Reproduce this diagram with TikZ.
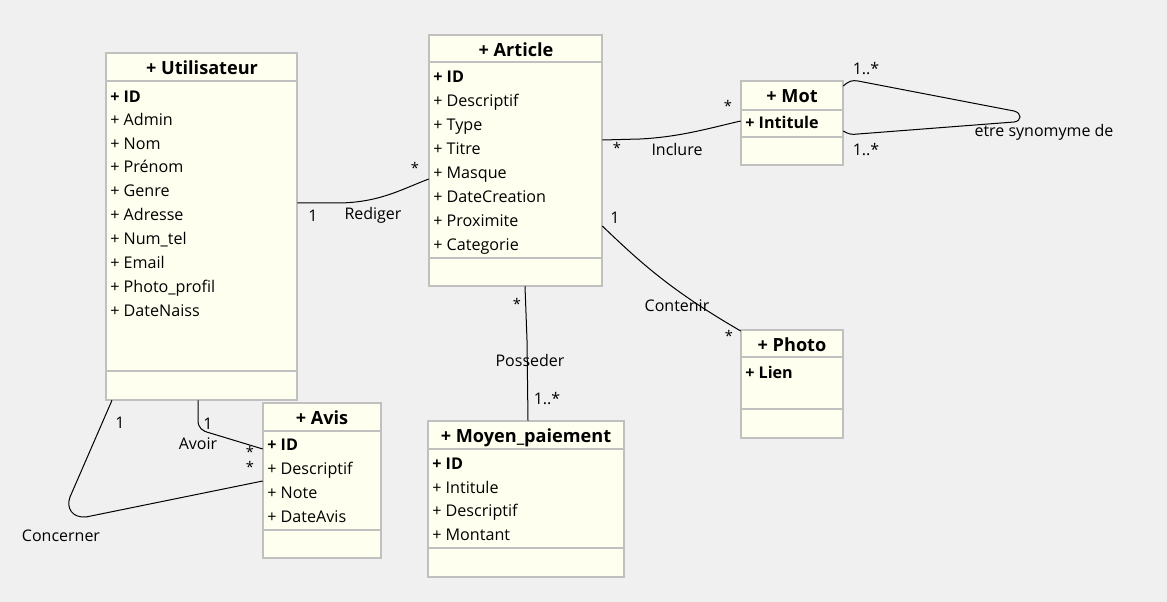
\documentclass[tikz,border=0pt]{standalone}
\usepackage{fontspec}
\setmainfont{Open Sans}
\usetikzlibrary{fit}
\definecolor{bg}{HTML}{F0F0F0}
\definecolor{boxfill}{HTML}{FFFFF0}
\definecolor{boxline}{HTML}{C0C0C0}
\tikzset{
  attr/.style={anchor=west, inner sep=0, yshift=-1.4pt, text height=9pt, text depth=2.6pt, font=\fontsize{12.1}{14}\selectfont},
  attrb/.style={attr, font=\fontsize{12.1}{14}\selectfont\bfseries},
  utitle/.style={inner sep=0, yshift=-1.4pt, text height=10pt, text depth=3pt, font=\fontsize{13.6}{16}\selectfont\bfseries},
  lbl/.style={inner sep=0, yshift=-1.2pt, text height=9pt, text depth=2.6pt, font=\fontsize{12}{14}\selectfont},
  star/.style={inner sep=0, font=\fontsize{11}{13}\selectfont},
  conn/.style={draw=black, line width=0.75pt},
  frame/.style={draw=boxline, line width=1.5pt, fill=boxfill},
  sepline/.style={draw=boxline, line width=1.5pt},
}
\newcommand{\umlbox}[7]{%
  \draw[frame] (#2,#3) rectangle (#4,#5);
  \draw[sepline] (#2,#6) -- (#4,#6);
  \draw[sepline] (#2,#7) -- (#4,#7);
  \node[inner sep=0, fit={(#2,#3)(#4,#5)}] (#1) {};
}
\begin{document}
\begin{tikzpicture}[x=0.75pt,y=-0.75pt]
\fill[bg] (0,0) rectangle (1167,602);
\useasboundingbox (0,0) rectangle (1167,602);

% ---------- boxes ----------
\umlbox{util}{106}{53}{297}{400}{81}{371}
\node[utitle] (utilT) at (202,68) {+ Utilisateur};
\node[attrb] (u1) at (110,96) {+ ID};
\node[attr] (u2) at (110,119) {+ Admin};
\node[attr] (u3) at (110,143) {+ Nom};
\node[attr] (u4) at (110,166) {+ Prénom};
\node[attr] (u5) at (110,190) {+ Genre};
\node[attr] (u6) at (110,214) {+ Adresse};
\node[attr] (u7) at (110,238) {+ Num\_tel};
\node[attr] (u8) at (110,262) {+ Email};
\node[attr] (u9) at (110,286) {+ Photo\_profil};
\node[attr] (u10) at (110,310) {+ DateNaiss};

\umlbox{article}{429}{35}{602}{286}{62}{258}
\node[utitle] (artT) at (516,50) {+ Article};
\node[attrb] (a1) at (433,76) {+ ID};
\node[attr] (a2) at (433,100) {+ Descriptif};
\node[attr] (a3) at (433,124) {+ Type};
\node[attr] (a4) at (433,148) {+ Titre};
\node[attr] (a5) at (433,172) {+ Masque};
\node[attr] (a6) at (433,196) {+ DateCreation};
\node[attr] (a7) at (433,220) {+ Proximite};
\node[attr] (a8) at (433,244) {+ Categorie};

\umlbox{mot}{741}{81}{843}{165}{110}{137}
\node[utitle] (motT) at (792,96) {+ Mot};
\node[attrb] (m1) at (745,122) {+ Intitule};

\umlbox{photo}{741}{330}{843}{438}{357}{409}
\node[utitle] (photoT) at (792,345) {+ Photo};
\node[attrb] (p1) at (745,372) {+ Lien};

\umlbox{avis}{263}{403}{381}{558}{431}{530}
\node[utitle] (avisT) at (322,418) {+ Avis};
\node[attrb] (v1) at (267,444) {+ ID};
\node[attr] (v2) at (267,468) {+ Descriptif};
\node[attr] (v3) at (267,492) {+ Note};
\node[attr] (v4) at (267,516) {+ DateAvis};

\umlbox{moyen}{428}{421}{624}{577}{449}{548}
\node[utitle] (moyT) at (526,436) {+ Moyen\_paiement};
\node[attrb] (y1) at (432,463) {+ ID};
\node[attr] (y2) at (432,487) {+ Intitule};
\node[attr] (y3) at (432,510) {+ Descriptif};
\node[attr] (y4) at (432,534) {+ Montant};

% ---------- connectors ----------
% Rediger
\draw[conn] (util.east |- 0,203) -- (340,203) .. controls (380,202) and (400,190) .. (article.west |- 0,179);
\node[lbl] (r1) at (313,216) {1};
\node[lbl] (r2) at (373,214) {Rediger};
\node[star] (r3) at (415,168) {*};

% Inclure
\draw[conn] (article.east |- 0,140) -- (640,139) .. controls (680,137) and (710,128) .. (mot.west |- 0,121);
\node[star] (i1) at (617,148) {*};
\node[lbl] (i2) at (677,150) {Inclure};
\node[star] (i3) at (728,106) {*};

% etre synonyme de
\draw[conn] (mot.east |- 0,86) .. controls (849,81) and (852,80) .. (858,81) -- (1014,111) .. controls (1022,113) and (1022,121) .. (1014,122) -- (858,134) .. controls (852,135) and (848,134) .. (mot.east |- 0,131);
\node[lbl] (s1) at (866,69) {1..*};
\node[lbl] (s2) at (866,150) {1..*};
\node[lbl] (s3) at (1044,131) {etre synomyme de};

% Contenir
\draw[conn] (article.east |- 0,226) .. controls (640,262) and (670,290) .. (photo.west |- 0,331);
\node[lbl] (c1) at (615,218) {1};
\node[lbl] (c2) at (677,306) {Contenir};
\node[star] (c3) at (729,336) {*};

% Posseder
\draw[conn] (article.south -| 525,0) -- (527,340) -- (moyen.north -| 528,0);
\node[star] (o1) at (517,304) {*};
\node[lbl] (o2) at (530,361) {Posseder};
\node[lbl] (o3) at (547,399) {1..*};

% Avoir
\draw[conn] (util.south -| 198,0) -- (198,420) .. controls (198,428) and (202,431) .. (210,433) -- (avis.west |- 0,449);
\node[lbl] (v5) at (208,424) {1};
\node[lbl] (v6) at (198,444) {Avoir};
\node[star] (v7) at (250,452) {*};
\node[star] (v8) at (250,467) {*};

% Concerner
\draw[conn] (util.south -| 112,0) -- (70,497) .. controls (66,508) and (72,518) .. (86,517) -- (avis.west |- 0,481);
\node[lbl] (k1) at (120,423) {1};
\node[lbl] (k2) at (61,536) {Concerner};
\end{tikzpicture}
\end{document}
